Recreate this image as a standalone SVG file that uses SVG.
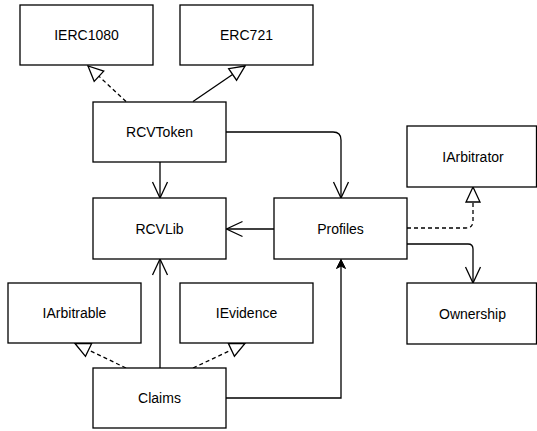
<svg xmlns="http://www.w3.org/2000/svg" width="537" height="431" viewBox="0 0 537 431">
<style>
.box{fill:#fff;stroke:#000;stroke-width:1.3}
.lbl{font-family:"Liberation Sans",Arial,Helvetica,sans-serif;font-size:14px;fill:#000;text-anchor:middle}
.edge{fill:none;stroke:#000;stroke-width:1.3}
.dash{stroke-dasharray:4 3}
</style>
<defs>
<marker id="open" markerUnits="userSpaceOnUse" orient="auto" refX="0" refY="0" markerWidth="20" markerHeight="20" overflow="visible">
<path d="M-16,-7.5 L0,0 L-16,7.5" fill="none" stroke="#000" stroke-width="1.3"/>
</marker>
<marker id="tri" markerUnits="userSpaceOnUse" orient="auto" refX="0" refY="0" markerWidth="20" markerHeight="20" overflow="visible">
<path d="M0,0 L-15,-7 L-15,7 Z" fill="#fff" stroke="#000" stroke-width="1.3"/>
</marker>
<marker id="filled" markerUnits="userSpaceOnUse" orient="auto" refX="0" refY="0" markerWidth="20" markerHeight="20" overflow="visible">
<path d="M0,0 L-9,-4.5 L-6.5,0 L-9,4.5 Z" fill="#000" stroke="#000" stroke-width="1"/>
</marker>
</defs>
<g id="connectors">
<path class="edge dash" d="M126,101.5 L88,66" marker-end="url(#tri)"/>
<path class="edge" d="M193,101.5 L245,66" marker-end="url(#tri)"/>
<path class="edge" d="M226,132 H333 Q341,132 341,140 V198" marker-end="url(#open)"/>
<path class="edge" d="M160,162 V198" marker-end="url(#open)"/>
<path class="edge" d="M274,229 H226.5" marker-end="url(#open)"/>
<path class="edge dash" d="M407,228 H466 Q473,228 473,221 V187" marker-end="url(#tri)"/>
<path class="edge" d="M407,244 H468 Q473,244 473,249 V283" marker-end="url(#open)"/>
<path class="edge" d="M160,368 V259" marker-end="url(#open)"/>
<path class="edge dash" d="M126,368 L75,343.5" marker-end="url(#tri)"/>
<path class="edge dash" d="M193,368 L245,343.5" marker-end="url(#tri)"/>
<path class="edge" d="M226,398 H341 V259.5" marker-end="url(#filled)"/>
</g>
<g id="IERC1080"><rect class="box" x="20" y="5" width="133" height="60"/><text class="lbl" x="86.5" y="40">IERC1080</text></g>
<g id="ERC721"><rect class="box" x="180" y="5" width="133" height="60"/><text class="lbl" x="246.5" y="40">ERC721</text></g>
<g id="RCVToken"><rect class="box" x="93" y="102" width="133" height="60"/><text class="lbl" x="159.5" y="137">RCVToken</text></g>
<g id="RCVLib"><rect class="box" x="93" y="198" width="133" height="61"/><text class="lbl" x="159.5" y="233.5">RCVLib</text></g>
<g id="Profiles"><rect class="box" x="274" y="198" width="133" height="61"/><text class="lbl" x="340.5" y="233.5">Profiles</text></g>
<g id="IArbitrator"><rect class="box" x="407" y="126" width="129.5" height="61"/><text class="lbl" x="473" y="161.5">IArbitrator</text></g>
<g id="IArbitrable"><rect class="box" x="8" y="283" width="133" height="60"/><text class="lbl" x="74.5" y="318">IArbitrable</text></g>
<g id="IEvidence"><rect class="box" x="180" y="283" width="133" height="60"/><text class="lbl" x="246.5" y="318">IEvidence</text></g>
<g id="Ownership"><rect class="box" x="407" y="283" width="129.5" height="61"/><text class="lbl" x="472.5" y="318.5">Ownership</text></g>
<g id="Claims"><rect class="box" x="93" y="368" width="133" height="60"/><text class="lbl" x="159.5" y="403">Claims</text></g>
</svg>
